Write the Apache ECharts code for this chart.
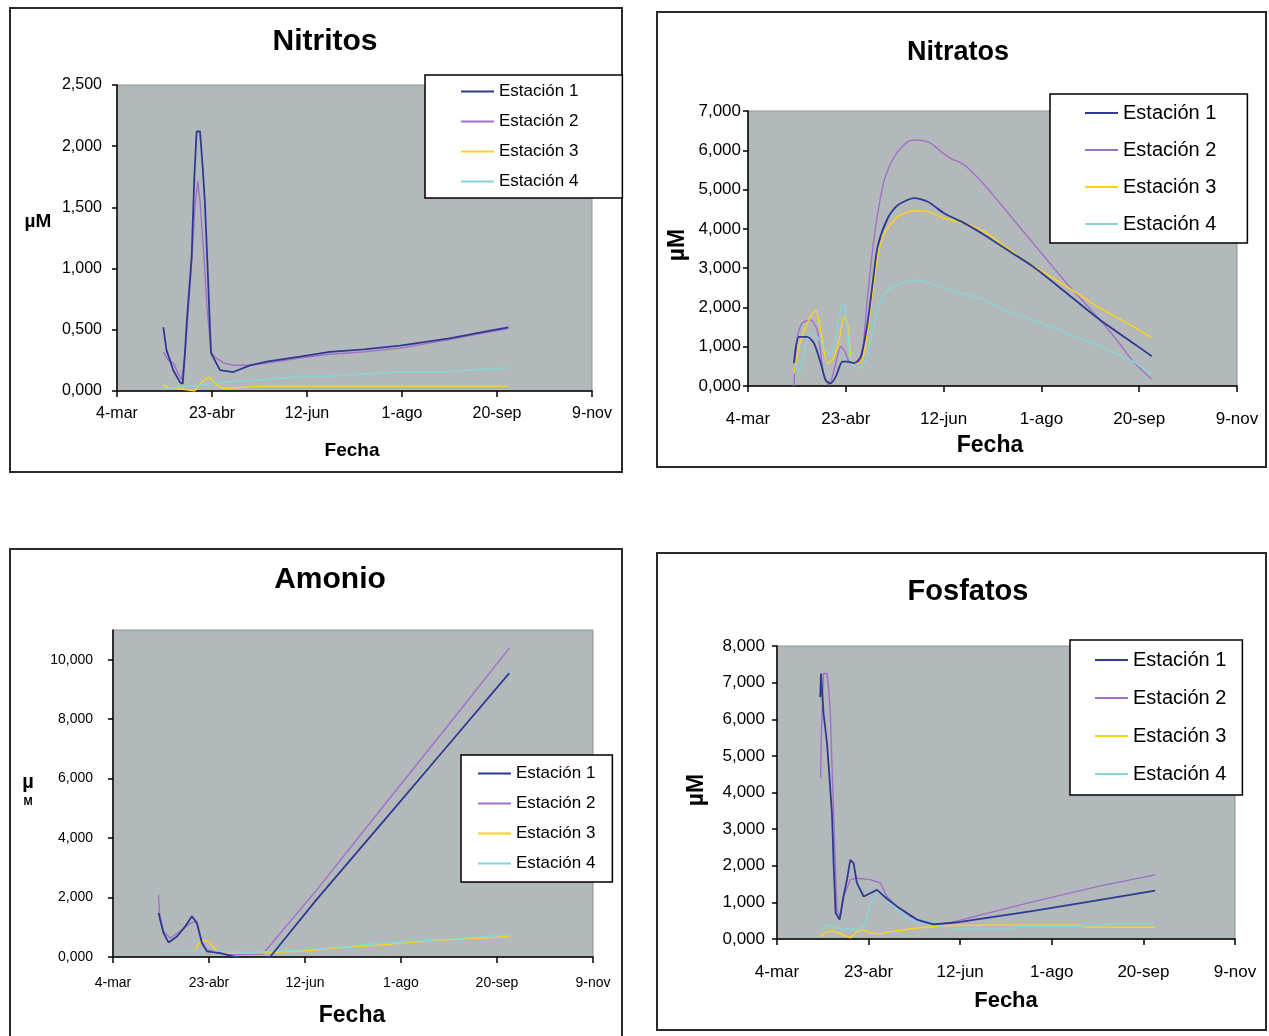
<!DOCTYPE html>
<html>
<head>
<meta charset="utf-8">
<script src="https://cdn.jsdelivr.net/npm/echarts@6/dist/echarts.min.js"></script>
<style>
html,body{margin:0;padding:0;background:#fff;}
#c{width:1269px;height:1036px;}
</style>
</head>
<body>
<div id="c"></div>
<script>
// ---- labels ----
const tickLabels = ['4-mar', '23-abr', '12-jun', '1-ago', '20-sep', '9-nov'];
const seriesNames = ['Estación 1', 'Estación 2', 'Estación 3', 'Estación 4'];
const panelTitles = ['Nitritos', 'Nitratos', 'Amonio', 'Fosfatos'];

// ---- data: [days since 4-mar, µM] ----
const nitritosE1 = [[24.4,0.52],[26.1,0.33],[27.9,0.25],[29.6,0.17],[33.2,0.07],[34.6,0.06],[35.8,0.32],[36.7,0.56],[39.3,1.10],[40.7,1.75],[41.9,2.12],[43.7,2.12],[45.1,1.83],[46.3,1.53],[48.1,0.85],[48.9,0.52],[49.5,0.31],[54.2,0.17],[61.2,0.155],[70,0.21],[78.8,0.24],[96.3,0.28],[112,0.32],[130,0.34],[149,0.37],[175,0.43],[195,0.49],[206,0.52]];
const nitritosE2 = [[24.4,0.32],[27,0.25],[29.6,0.23],[32,0.15],[34,0.09],[35.8,0.3],[37,0.55],[39.3,1.05],[41,1.5],[42.5,1.71],[43.7,1.55],[45.6,1.13],[47.5,0.66],[49.5,0.32],[52,0.27],[56,0.23],[61,0.21],[70,0.21],[80,0.23],[96,0.27],[112,0.3],[130,0.32],[149,0.35],[175,0.42],[195,0.48],[206,0.51]];
const nitritosE3 = [[24.4,0.05],[27,0.03],[31,0.02],[36.7,0.01],[40.9,0.0],[42.5,0.03],[44.6,0.07],[46.5,0.1],[48.9,0.11],[50.5,0.08],[52.5,0.05],[55,0.03],[57.8,0.02],[64.9,0.03],[75,0.04],[100,0.04],[150,0.04],[206,0.04]];
const nitritosE4 = [[24.4,0.02],[30,0.025],[35,0.035],[42,0.045],[50,0.06],[61,0.08],[75,0.09],[90,0.11],[96,0.12],[112,0.12],[130,0.14],[150,0.155],[170,0.155],[183,0.17],[195,0.18],[206,0.19]];

const nitratosE1 = [[23.5,0.58],[26,1.25],[30.3,1.25],[33.7,1.09],[37.2,0.58],[39.7,0.15],[42.3,0.07],[44.9,0.24],[48.3,0.62],[50.9,0.62],[54.3,0.58],[57.7,0.75],[61.1,1.6],[63.7,2.6],[66.3,3.55],[71.4,4.27],[76.5,4.6],[85,4.78],[92,4.69],[100.5,4.39],[110.8,4.14],[121,3.84],[134,3.42],[145.7,3.04],[163,2.36],[180,1.68],[197,1.09],[206.4,0.76]];
const nitratosE2 = [[23.5,0],[25.2,1.25],[27.7,1.6],[32,1.68],[35.4,1.42],[38.9,0.24],[41.4,0.03],[44,0.4],[47.4,1.0],[49.1,0.92],[52.6,0.58],[57.7,0.66],[61.1,2.27],[63.7,3.46],[66.3,4.39],[69.7,5.24],[74.8,5.84],[81.7,6.22],[86.8,6.26],[93.7,6.17],[98.8,5.96],[103.9,5.79],[110.8,5.62],[121,5.11],[138,4.1],[154.4,3.12],[163,2.61],[180,1.68],[188.5,1.17],[197,0.62],[206.4,0.17]];
const nitratosE3 = [[23.5,0.32],[26,1.0],[30.3,1.6],[34.6,1.93],[37.2,1.42],[40.6,0.58],[43.2,0.66],[46.6,1.17],[49.1,1.76],[50.9,1.6],[53.4,0.58],[56.8,0.58],[59.4,0.83],[62.8,2.02],[66.3,3.29],[69.7,3.88],[76.5,4.31],[85,4.46],[92,4.44],[100.5,4.27],[110.8,4.14],[121,3.93],[130,3.6],[142.5,3.16],[163,2.53],[180,1.98],[197,1.51],[206.4,1.23]];
const nitratosE4 = [[23.5,0.66],[26,0.32],[28.6,0.83],[32,1.34],[35.4,1.25],[38.9,1.0],[42.3,0.79],[44.9,1.25],[48.3,2.1],[50,1.93],[52.6,0.58],[56.8,0.45],[60.3,0.66],[64.6,1.6],[69.7,2.36],[78.3,2.61],[86.8,2.7],[95.4,2.57],[103.9,2.44],[121,2.19],[128.8,1.98],[145.7,1.68],[163,1.34],[180,1.0],[197,0.62],[206.4,0.31]];

const amonioE1 = [[23.7,1.48],[26.3,0.81],[28.9,0.49],[33.3,0.69],[37.6,1.03],[41.1,1.37],[43.7,1.14],[46.3,0.47],[48.9,0.19],[55.8,0.13],[62.7,0.02],[71.4,-0.11],[78.4,-0.03],[81.8,0],[106,1.93],[140.8,4.56],[175.5,7.2],[206.4,9.55]];
const amonioE2 = [[23.7,2.1],[24.2,1.5],[26.3,0.86],[29.8,0.64],[35,0.86],[40.3,1.14],[43.7,1.2],[46.3,0.5],[48.9,0.25],[54.1,0.16],[62,0.08],[70,0.1],[78,0.1],[106,2.25],[140.8,5.07],[175.5,7.87],[206.4,10.39]];
const amonioE3 = [[42.8,0.25],[44.5,0.45],[46.5,0.54],[48,0.56],[50,0.5],[51.5,0.4],[53.2,0.25],[55,0.13],[62.7,0.13],[71.4,0.13],[80,0.15],[97.5,0.19],[114.7,0.3],[140.8,0.41],[166.8,0.56],[192.8,0.64],[206.4,0.69]];
const amonioE4 = [[23.7,0.19],[40,0.19],[60,0.18],[71.4,0.15],[97.5,0.24],[114.7,0.32],[140.8,0.47],[175.5,0.6],[206.4,0.75]];

const fosfatosE1 = [[23.6,6.6],[24,7.25],[25.4,6.16],[27.3,5.34],[28.5,4.52],[30,3.43],[30.9,2.07],[32,0.71],[34.2,0.53],[36.3,1.16],[38.2,1.62],[40,2.16],[41.8,2.07],[43.6,1.53],[47.3,1.16],[50.9,1.25],[54.6,1.34],[60,1.1],[65.5,0.89],[76.4,0.53],[85.4,0.4],[97.3,0.45],[140,0.77],[176.4,1.07],[206.4,1.32]];
const fosfatosE2 = [[23.8,4.4],[24.2,5.6],[25.4,7.25],[27.3,7.25],[28.2,6.84],[29.1,6.16],[30,4.8],[30.9,3.43],[31.8,2.07],[32.7,0.8],[34.5,0.62],[36.3,1.16],[40,1.62],[43.6,1.66],[50.9,1.62],[56.4,1.53],[60,1.16],[65.5,0.89],[72.7,0.62],[80,0.44],[85.4,0.4],[94.5,0.44],[97.3,0.48],[140,1.02],[176.4,1.45],[206.4,1.75]];
const fosfatosE3 = [[23.6,0.07],[27.3,0.2],[30,0.22],[34.5,0.15],[38,0.08],[40,0.03],[42,0.12],[43.6,0.2],[47.3,0.25],[50.9,0.17],[56.4,0.14],[61.8,0.2],[76.4,0.3],[94.5,0.37],[121.8,0.38],[165,0.38],[168,0.32],[206.4,0.32]];
const fosfatosE4 = [[24,0.21],[27.3,0.39],[30,0.35],[34.5,0.28],[40,0.26],[43.6,0.26],[47.3,0.35],[49.1,0.62],[50.9,0.98],[54.6,1.25],[56.4,1.25],[60,1.07],[65.5,0.8],[72.7,0.53],[80,0.42],[89,0.35],[97.3,0.27],[129,0.27],[131,0.34],[163.6,0.34],[183.6,0.42],[206.4,0.42]];

const panelData = [
  [nitritosE1, nitritosE2, nitritosE3, nitritosE4],
  [nitratosE1, nitratosE2, nitratosE3, nitratosE4],
  [amonioE1, amonioE2, amonioE3, amonioE4],
  [fosfatosE1, fosfatosE2, fosfatosE3, fosfatosE4]
];
const yMax = [2.5, 7, 11, 8];
const yStep = [0.5, 1, 2, 1];

// ---- styling / layout ----
const colors = ['#2e3a92', '#a070c8', '#ffd21a', '#86d6d8'];
const FONT = "'Liberation Sans', Arial, sans-serif";
const layout = [
  { box:[10,8,612,464], grid:[117,85,475,306], tick:16, yMargin:15, xMargin:15, title:[325,42,30], fecha:[352,451,19], um:{x:38,y:222,size:19},
    legend:{left:425, top:75, fs:17, gap:13, pad:[8,44,8,36]} },
  { box:[657,12,609,455], grid:[748,111,489,275], tick:17, yMargin:7, xMargin:25, title:[958,53,27], fecha:[990,446,23], um:{x:678,y:245,size:23},
    legend:{left:1050, top:94, fs:20, gap:17, pad:[9,31,9,35]} },
  { box:[10,549,612,500], grid:[113,630,480,327], tick:14, yMargin:20, xMargin:19, title:[330,580,30], fecha:[352,1016,23], um:{x:28,y:782,size:20},
    legend:{left:461, top:755, fs:17, gap:13, pad:[10,17,10,17]} },
  { box:[657,553,609,477], grid:[777,646,458,293], tick:17, yMargin:12, xMargin:25, title:[968,592,29], fecha:[1006,1001,22], um:{x:697,y:790,size:23},
    legend:{left:1070, top:640, fs:20, gap:18, pad:[10,16,11,25]} }
];

function fmtY(v) { return v.toFixed(3).replace('.', ','); }

const option = {
  animation: false,
  backgroundColor: '#ffffff',
  grid: [], xAxis: [], yAxis: [], series: [], legend: [], graphic: []
};

const centerText = { fill: '#000', align: 'center', verticalAlign: 'middle', textAlign: 'center', textVerticalAlign: 'middle' };

layout.forEach((L, p) => {
  option.grid.push({
    left: L.grid[0], top: L.grid[1], width: L.grid[2], height: L.grid[3],
    show: true, backgroundColor: '#b3b9bb', borderColor: '#8d9294', borderWidth: 1,
    containLabel: false, outerBoundsMode: 'none'
  });
  option.xAxis.push({
    type: 'value', gridIndex: p, min: 0, max: 250, interval: 50,
    axisLine: { show: true, onZero: false, lineStyle: { color: '#000', width: 1.5 } },
    axisTick: { show: true, length: 6, lineStyle: { color: '#000', width: 1.5 } },
    splitLine: { show: false },
    axisLabel: { color: '#000', fontFamily: FONT, fontSize: L.tick, margin: L.xMargin,
      formatter: v => tickLabels[Math.round(v / 50)] }
  });
  option.yAxis.push({
    type: 'value', gridIndex: p, min: 0, max: yMax[p], interval: yStep[p],
    axisLine: { show: true, lineStyle: { color: '#000', width: 1.5 } },
    axisTick: { show: true, length: 5, lineStyle: { color: '#000', width: 1.5 } },
    splitLine: { show: false },
    axisLabel: { color: '#000', fontFamily: FONT, fontSize: L.tick, margin: L.yMargin,
      showMaxLabel: p === 2 ? false : true,
      formatter: v => (v > 10.5 ? '' : fmtY(v)) }
  });
  panelData[p].forEach((d, i) => {
    option.series.push({
      type: 'line', name: seriesNames[i], xAxisIndex: p, yAxisIndex: p,
      data: d, symbol: 'none', smooth: p === 1 ? 0.25 : false,
      lineStyle: { color: colors[i], width: i === 0 ? 1.8 : 1.4 },
      itemStyle: { color: colors[i] }, z: 3 + (i === 0 ? 1 : 0)
    });
  });
  option.legend.push({
    orient: 'vertical', left: L.legend.left, top: L.legend.top,
    data: seriesNames, icon: 'rect', itemWidth: 33, itemHeight: 2, itemGap: L.legend.gap,
    padding: L.legend.pad, backgroundColor: '#ffffff', borderColor: '#000', borderWidth: 1.5,
    textStyle: { color: '#000', fontFamily: FONT, fontSize: L.legend.fs },
    selectedMode: false
  });
  option.graphic.push({ type: 'rect', z: -10, silent: true,
    shape: { x: L.box[0], y: L.box[1], width: L.box[2], height: L.box[3] },
    style: { fill: '#ffffff', stroke: '#2a2a2a', lineWidth: 2 } });
  option.graphic.push({ type: 'text', z: 10, silent: true, x: L.title[0], y: L.title[1],
    style: Object.assign({ text: panelTitles[p], font: 'bold ' + L.title[2] + 'px ' + FONT }, centerText) });
  option.graphic.push({ type: 'text', z: 10, silent: true, x: L.fecha[0], y: L.fecha[1],
    style: Object.assign({ text: 'Fecha', font: 'bold ' + L.fecha[2] + 'px ' + FONT }, centerText) });
});

const um = layout.map(L => L.um);
option.graphic.push({ type: 'text', z: 10, silent: true, x: um[0].x, y: um[0].y,
  style: Object.assign({ text: 'µM', font: 'bold ' + um[0].size + 'px ' + FONT }, centerText) });
option.graphic.push({ type: 'text', z: 10, silent: true, x: um[1].x, y: um[1].y, rotation: Math.PI / 2,
  style: Object.assign({ text: 'µM', font: 'bold ' + um[1].size + 'px ' + FONT }, centerText) });
option.graphic.push({ type: 'text', z: 10, silent: true, x: um[2].x, y: um[2].y,
  style: Object.assign({ text: 'µ', font: 'bold ' + um[2].size + 'px ' + FONT }, centerText) });
option.graphic.push({ type: 'text', z: 10, silent: true, x: um[2].x, y: um[2].y + 20,
  style: Object.assign({ text: 'M', font: 'bold 11px ' + FONT }, centerText) });
option.graphic.push({ type: 'text', z: 10, silent: true, x: um[3].x, y: um[3].y, rotation: Math.PI / 2,
  style: Object.assign({ text: 'µM', font: 'bold ' + um[3].size + 'px ' + FONT }, centerText) });

const chart = echarts.init(document.getElementById('c'), null, { renderer: 'canvas' });
chart.setOption(option);
</script>
</body>
</html>
